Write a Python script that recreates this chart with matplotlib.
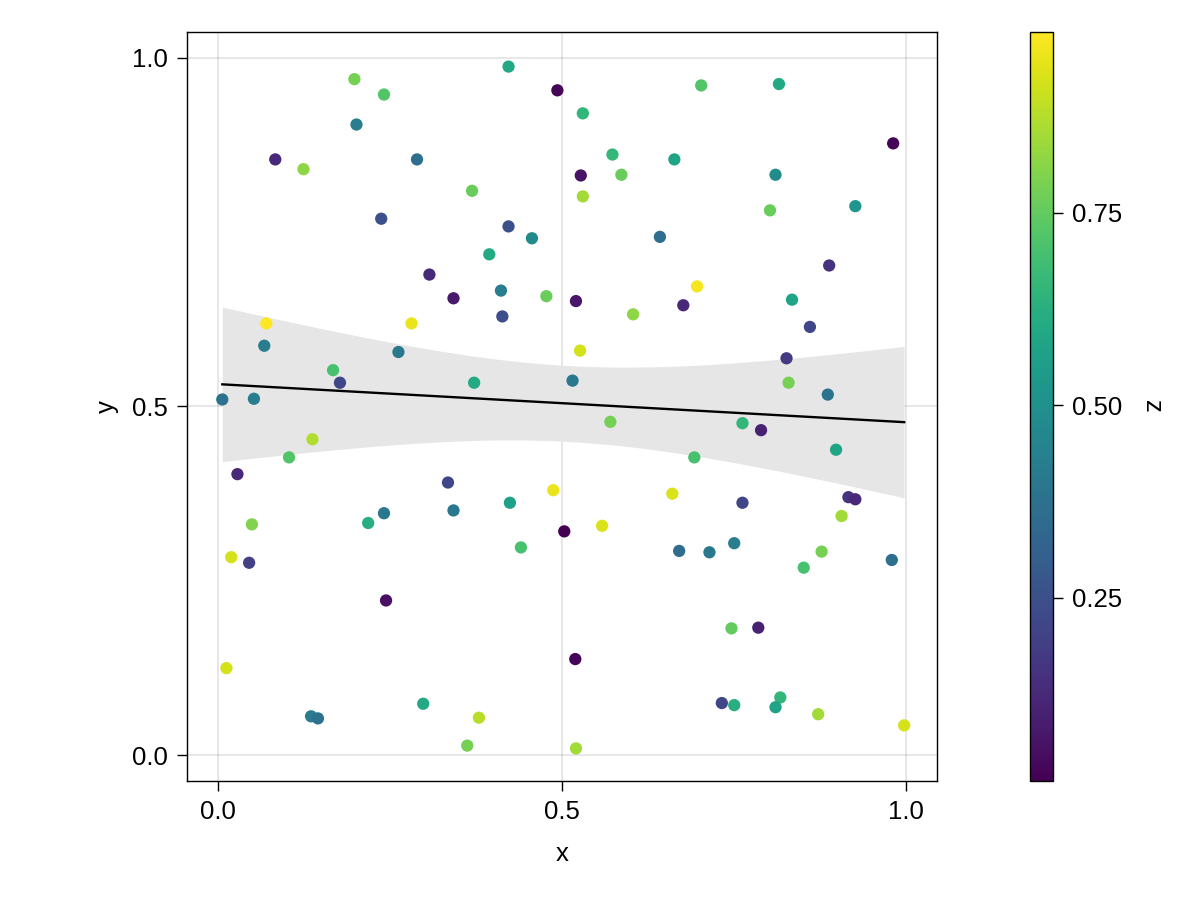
import numpy as np
import matplotlib
matplotlib.use("Agg")
import matplotlib.pyplot as plt

plt.rcParams["font.family"] = ["Liberation Sans", "DejaVu Sans"]

# scatter data (x, y, z)
xs = [0.198, 0.241, 0.422, 0.493, 0.201, 0.083, 0.124, 0.289, 0.369, 0.237,
      0.422, 0.456, 0.394, 0.307, 0.411, 0.342, 0.477, 0.413, 0.070, 0.281,
      0.067, 0.262, 0.167, 0.177, 0.372, 0.006, 0.052,
      0.702, 0.815, 0.530, 0.981, 0.573, 0.663, 0.527, 0.586, 0.810, 0.530,
      0.802, 0.926, 0.642, 0.888, 0.696, 0.520, 0.603, 0.676, 0.834, 0.860,
      0.526, 0.826, 0.515, 0.829, 0.886,
      0.137, 0.103, 0.028, 0.334, 0.487, 0.424, 0.241, 0.342, 0.218, 0.049,
      0.440, 0.019, 0.045, 0.244, 0.012, 0.298, 0.135, 0.145, 0.379, 0.362,
      0.570, 0.762, 0.789, 0.898, 0.692, 0.660, 0.762, 0.916, 0.926, 0.906,
      0.503, 0.558, 0.670, 0.714, 0.750, 0.877, 0.851, 0.979, 0.746, 0.785,
      0.519, 0.732, 0.750, 0.817, 0.810, 0.872, 0.997, 0.520]

ys = [0.969, 0.947, 0.987, 0.953, 0.904, 0.854, 0.840, 0.854, 0.809, 0.769,
      0.758, 0.741, 0.718, 0.689, 0.666, 0.655, 0.658, 0.629, 0.619, 0.619,
      0.587, 0.578, 0.552, 0.534, 0.534, 0.510, 0.511,
      0.960, 0.962, 0.920, 0.877, 0.861, 0.854, 0.831, 0.832, 0.832, 0.801,
      0.781, 0.787, 0.743, 0.702, 0.672, 0.651, 0.632, 0.645, 0.653, 0.614,
      0.580, 0.569, 0.537, 0.534, 0.517,
      0.453, 0.427, 0.403, 0.391, 0.380, 0.362, 0.347, 0.351, 0.333, 0.331,
      0.298, 0.284, 0.276, 0.222, 0.125, 0.074, 0.056, 0.053, 0.054, 0.014,
      0.478, 0.476, 0.466, 0.438, 0.427, 0.375, 0.362, 0.370, 0.367, 0.343,
      0.321, 0.329, 0.293, 0.291, 0.304, 0.292, 0.269, 0.280, 0.182, 0.183,
      0.138, 0.075, 0.072, 0.083, 0.069, 0.059, 0.043, 0.010]

zs = [0.78, 0.72, 0.60, 0.02, 0.42, 0.12, 0.82, 0.36, 0.76, 0.25,
      0.25, 0.48, 0.60, 0.12, 0.42, 0.08, 0.76, 0.24, 0.984, 0.95,
      0.42, 0.40, 0.70, 0.22, 0.60, 0.38, 0.42,
      0.72, 0.60, 0.65, 0.02, 0.66, 0.58, 0.06, 0.76, 0.48, 0.85,
      0.76, 0.52, 0.36, 0.15, 0.97, 0.07, 0.82, 0.12, 0.58, 0.22,
      0.92, 0.18, 0.40, 0.78, 0.38,
      0.87, 0.72, 0.12, 0.22, 0.95, 0.56, 0.40, 0.40, 0.62, 0.80,
      0.70, 0.92, 0.20, 0.05, 0.92, 0.60, 0.42, 0.38, 0.88, 0.78,
      0.78, 0.65, 0.10, 0.58, 0.70, 0.93, 0.22, 0.15, 0.12, 0.85,
      0.012, 0.93, 0.35, 0.40, 0.42, 0.78, 0.70, 0.36, 0.75, 0.10,
      0.02, 0.22, 0.62, 0.65, 0.58, 0.85, 0.92, 0.85]

x = np.array(xs)
y = np.array(ys)
z = np.array(zs)

# linear fit with 95% confidence band
slope, icpt = np.polyfit(x, y, 1)
n = len(x)
resid = y - (slope * x + icpt)
s = np.sqrt(np.sum(resid ** 2) / (n - 2))
sxx = np.sum((x - x.mean()) ** 2)
xf = np.linspace(x.min(), x.max(), 200)
yf = slope * xf + icpt
half = 1.984 * s * np.sqrt(1.0 / n + (xf - x.mean()) ** 2 / sxx)

fig = plt.figure(figsize=(12, 9), dpi=100)
ax = fig.add_axes([0.156, 0.132, 0.625, 0.832])
cax = fig.add_axes([0.858, 0.132, 0.0195, 0.832])

ax.fill_between(xf, yf - half, yf + half, color="#e6e6e6", lw=0, zorder=1)
ax.plot(xf, yf, color="black", lw=1.7, zorder=2)
sc = ax.scatter(x, y, c=z, cmap="viridis", s=78, linewidths=0, zorder=3)

ax.set_xlim(-0.045, 1.045)
ax.set_ylim(-0.037, 1.036)
ax.set_xticks([0.0, 0.5, 1.0])
ax.set_yticks([0.0, 0.5, 1.0])
ax.set_xticklabels(["0.0", "0.5", "1.0"])
ax.set_yticklabels(["0.0", "0.5", "1.0"])
ax.grid(True, color="#000000", alpha=0.12, lw=1.1, zorder=0)
ax.set_axisbelow(True)
ax.tick_params(direction="out", length=7.2, width=1, labelsize=18.5, pad=6.5)
for sp in ax.spines.values():
    sp.set_linewidth(1)
ax.set_xlabel("x", fontsize=18.5, labelpad=13)
ax.set_ylabel("y", fontsize=18.5, labelpad=10)

cb = fig.colorbar(sc, cax=cax)
cb.set_ticks([0.25, 0.50, 0.75])
cb.set_ticklabels(["0.25", "0.50", "0.75"])
cb.outline.set_linewidth(1)
cax.tick_params(direction="out", length=7.2, width=1, labelsize=18.5, pad=6.5)
cb.set_label("z", fontsize=18.5, rotation=-90, labelpad=30)

fig.savefig("out.png", dpi=100)
